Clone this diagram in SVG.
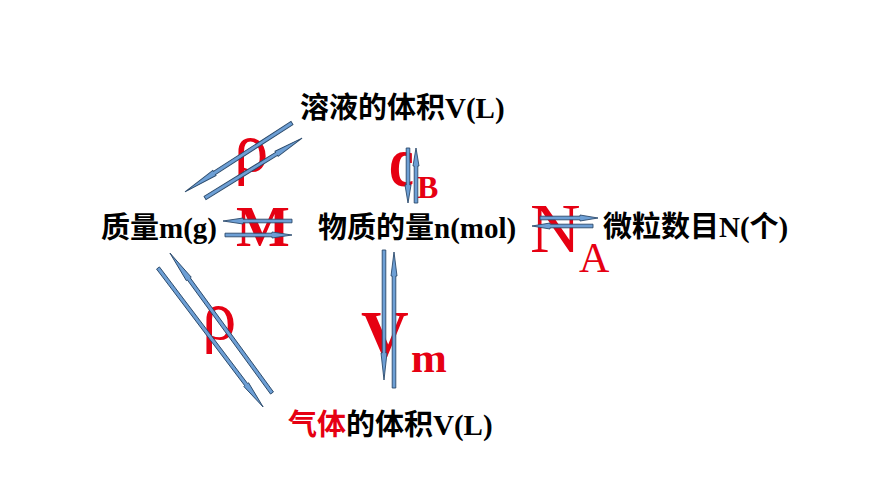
<svg xmlns="http://www.w3.org/2000/svg" width="870" height="489" viewBox="0 0 870 489">
<style>
.node{font-family:"Liberation Serif","Noto Sans CJK SC",serif;font-weight:bold;font-size:29px;fill:#000}
.red{fill:#e60012}
.lbl{font-family:"Liberation Serif",serif;fill:#e60012}
.arr{fill:#6d9fd5;stroke:#2b4a6b;stroke-width:0.9;stroke-linejoin:miter}
</style>
<rect width="870" height="489" fill="#fff"/>
<g id="labels">
<text class="lbl" x="234" y="171" font-size="69">ρ</text>
<text class="lbl" x="202" y="339" font-size="69">ρ</text>
<text class="lbl" x="236" y="246" font-size="57" font-weight="bold">M</text>
<text class="lbl" transform="translate(389,186) scale(1,1.3)" font-size="56" font-weight="bold">c</text>
<text class="lbl" x="417" y="198" font-size="32" font-weight="bold">B</text>
<text class="lbl" x="530" y="252" font-size="70">N</text>
<text class="lbl" x="579" y="272" font-size="42">A</text>
<text class="lbl" x="361" y="356" font-size="66" font-weight="bold">V</text>
<text class="lbl" x="411" y="372" font-size="43" font-weight="bold">m</text>
</g>
<g id="connectors">
<path class="arr" transform="translate(292,123) rotate(147.2)" d="M0,-1.8 H92.3 V-3 L127.3,0 L92.3,3 V1.8 H0 Z"/>
<path class="arr" transform="translate(205,198) rotate(-31.7)" d="M0,-1.8 H84.1 V-3 L114.1,0 L84.1,3 V1.8 H0 Z"/>
<path class="arr" transform="translate(292,221) rotate(180)" d="M0,-1.8 H49 V-3 L69,0 L49,3 V1.8 H0 Z"/>
<path class="arr" transform="translate(225,235)" d="M0,-1.8 H47 V-3 L67,0 L47,3 V1.8 H0 Z"/>
<path class="arr" transform="translate(408,148) rotate(90)" d="M0,-1.8 H37 V-3 L55,0 L37,3 V1.8 H0 Z"/>
<path class="arr" transform="translate(416,203) rotate(-90)" d="M0,-1.8 H37 V-3 L55,0 L37,3 V1.8 H0 Z"/>
<path class="arr" transform="translate(384,250) rotate(90)" d="M0,-1.8 H103 V-3 L130,0 L103,3 V1.8 H0 Z"/>
<path class="arr" transform="translate(394,388) rotate(-90)" d="M0,-1.8 H112 V-3 L136,0 L112,3 V1.8 H0 Z"/>
<path class="arr" transform="translate(540,218)" d="M0,-1.8 H40 V-3 L58,0 L40,3 V1.8 H0 Z"/>
<path class="arr" transform="translate(593,226) rotate(180)" d="M0,-1.8 H43 V-3 L61,0 L43,3 V1.8 H0 Z"/>
<path class="arr" transform="translate(158,268) rotate(52.9)" d="M0,-1.8 H146.2 V-3 L174.2,0 L146.2,3 V1.8 H0 Z"/>
<path class="arr" transform="translate(272,393) rotate(-126.1)" d="M0,-1.8 H141.2 V-3 L173.2,0 L141.2,3 V1.8 H0 Z"/>
</g>
<g id="node-solution-volume"><text class="node" x="300" y="118">溶液的体积V(L)</text></g>
<g id="node-mass"><text class="node" x="101" y="238">质量m(g)</text></g>
<g id="node-amount"><text class="node" x="318" y="238">物质的量n(mol)</text></g>
<g id="node-particles"><text class="node" x="603" y="237">微粒数目N(个)</text></g>
<g id="node-gas-volume"><text class="node" x="288" y="435"><tspan class="red">气体</tspan>的体积V(L)</text></g>
</svg>
